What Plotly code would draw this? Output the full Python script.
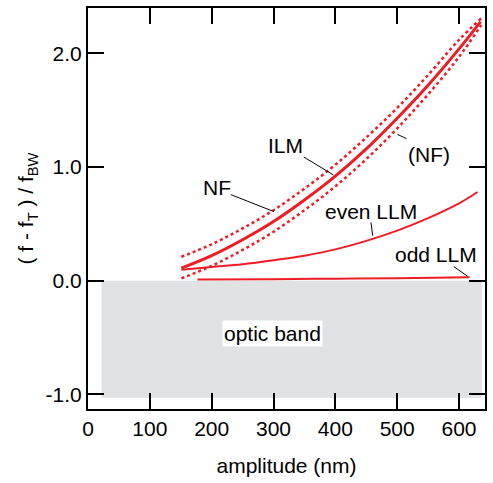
import plotly.graph_objects as go

# ---- data ----
amp_ilm = [151, 200, 250, 300, 350, 400, 450, 500, 550, 600, 635]
freq_ilm = [0.11, 0.22, 0.36, 0.52, 0.71, 0.92, 1.16, 1.43, 1.72, 2.04, 2.28]

amp_nf = [151, 200, 250, 300, 350, 400, 450, 500, 550, 600, 636]
freq_nf_upper = [0.21, 0.32, 0.46, 0.62, 0.81, 1.02, 1.26, 1.52, 1.81, 2.12, 2.31]
freq_nf_lower = [0.02, 0.13, 0.27, 0.43, 0.62, 0.83, 1.07, 1.34, 1.64, 1.97, 2.25]

amp_even = [151, 200, 250, 300, 350, 400, 450, 500, 550, 600, 630]
freq_even = [0.095, 0.12, 0.145, 0.18, 0.22, 0.275, 0.35, 0.44, 0.55, 0.68, 0.78]

amp_odd = [177, 300, 400, 500, 617]
freq_odd = [0.01, 0.013, 0.017, 0.022, 0.03]

band_x = [22, 637]
band_y = [-1.03, 0.0]

# label text, text centre (x, y), leader line (x0, y0, x1, y1)
labels = ["NF", "ILM", "(NF)", "even LLM", "odd LLM"]
label_pos = [(208, 0.816), (319, 1.189), (552, 1.114), (457, 0.605), (563, 0.228)]
leaders = [
    (231, 0.757, 300.6, 0.608),
    (349, 1.088, 397, 0.930),
    (500.5, 1.287, 515, 1.250),
    (457.7, 0.512, 460.3, 0.395),
    (591.6, 0.123, 614, 0.038),
]
band_label = "optic band"
band_label_pos = (298, -0.465)

x_ticks = [0, 100, 200, 300, 400, 500, 600]
y_ticks = [-1.0, 0.0, 1.0, 2.0]
y_ticktext = ["-1.0", "0.0", "1.0", "2.0"]

RED = "#ee1c25"
FONT = "Liberation Sans, Arial, Helvetica, sans-serif"
FS = 21

fig = go.Figure()

fig.add_shape(type="rect", x0=band_x[0], x1=band_x[1], y0=band_y[0], y1=band_y[1],
              fillcolor="#e1e2e4", line_width=0, layer="below")

fig.add_trace(go.Scatter(x=amp_nf, y=freq_nf_upper, mode="lines", line=dict(color=RED, width=2.5, dash="dot"), line_shape="spline"))
fig.add_trace(go.Scatter(x=amp_nf, y=freq_nf_lower, mode="lines", line=dict(color=RED, width=2.5, dash="dot"), line_shape="spline"))
fig.add_trace(go.Scatter(x=amp_ilm, y=freq_ilm, mode="lines", line=dict(color=RED, width=3), line_shape="spline"))
fig.add_trace(go.Scatter(x=amp_even, y=freq_even, mode="lines", line=dict(color=RED, width=2), line_shape="spline"))
fig.add_trace(go.Scatter(x=amp_odd, y=freq_odd, mode="lines", line=dict(color=RED, width=2), line_shape="spline"))

for (x0, y0, x1, y1) in leaders:
    fig.add_shape(type="line", x0=x0, y0=y0, x1=x1, y1=y1, line=dict(color="black", width=1))

for txt, (tx, ty) in zip(labels, label_pos):
    fig.add_annotation(x=tx, y=ty, text=txt, showarrow=False, font=dict(size=FS, color="black", family=FONT))

fig.add_annotation(x=band_label_pos[0], y=band_label_pos[1], text=band_label, showarrow=False,
                   bgcolor="white", borderpad=1, font=dict(size=FS, color="black", family=FONT))

axis_common = dict(showgrid=False, zeroline=False, showline=True, linecolor="black", linewidth=2,
                   ticks="inside", ticklen=16, tickwidth=2, tickcolor="black", mirror="allticks",
                   tickfont=dict(size=FS, color="black", family=FONT))

fig.update_xaxes(range=[0, 642], tickvals=x_ticks,
                 title=dict(text="amplitude (nm)", font=dict(size=FS, color="black", family=FONT), standoff=19),
                 **axis_common)
fig.update_yaxes(range=[-1.13, 2.40], tickvals=y_ticks, ticktext=y_ticktext,
                 title=dict(text="( f - f<sub>T</sub> ) / f<sub>BW</sub>", font=dict(size=FS, color="black", family=FONT), standoff=6),
                 **axis_common)

fig.update_layout(width=493, height=483, margin=dict(l=88, r=6, t=6, b=74),
                  plot_bgcolor="white", paper_bgcolor="white", showlegend=False,
                  font=dict(family=FONT, color="black"))

fig.write_html("out.html")
